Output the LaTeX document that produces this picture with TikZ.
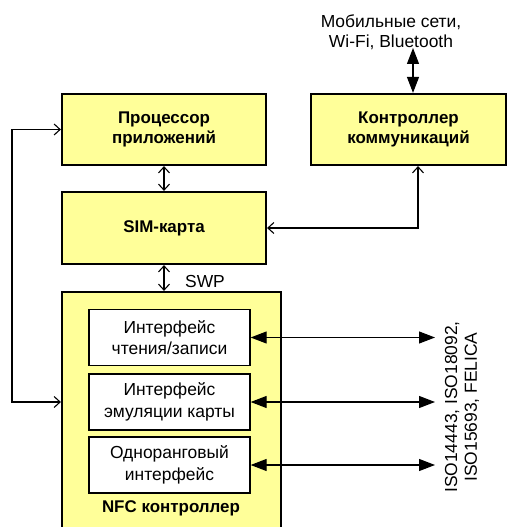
\documentclass[tikz,border=0pt]{standalone}
\usepackage{fontspec}
\setmainfont{Liberation Sans}
\usetikzlibrary{arrows.meta,positioning}
\definecolor{nfcyellow}{HTML}{FFFF99}

\begin{document}
\begin{tikzpicture}[
    x=1bp, y=-1bp, line join=miter,
    block/.style={draw=black, line width=2.2bp, fill=nfcyellow, inner sep=0pt,
      align=center, font=\fontsize{17}{20.5}\selectfont\bfseries},
    iface/.style={draw=black, line width=1.3bp, fill=white, inner sep=0pt,
      minimum width=161bp, minimum height=56bp, align=center,
      font=\fontsize{17.5}{21.5}\selectfont},
    lbl/.style={inner sep=0pt, align=center, font=\fontsize{17.5}{20}\selectfont},
    wire/.style={line width=1.1bp},
    barb/.style={wire, {Straight Barb[length=6bp,width=11bp]}-{Straight Barb[length=6bp,width=11bp]}},
    fat/.style={wire, {Triangle[length=16bp,width=12bp]}-{Triangle[length=16bp,width=12bp]}},
  ]
  \useasboundingbox (0,0) rectangle (507,527);
  \clip (0,0) rectangle (507,527);

  % --- upper blocks ---
  \node[block, minimum width=204bp, minimum height=71bp] (proc) at (164,129.5)
    {Процессор\\приложений};
  \node[block, minimum width=195bp, minimum height=71bp] (comm) at (408.5,129.5)
    {Контроллер\\коммуникаций};
  \node[block, minimum width=204bp, minimum height=72bp] (sim) at (164,228)
    {SIM-карта};

  % --- NFC controller with its interfaces ---
  \node[block, minimum width=219bp, minimum height=250bp] (nfc) at (171.5,417) {};
  \node[block, draw=none, fill=none] (nfclbl) at (171,508) {NFC контроллер};
  \node[iface] (rw)  at (169.5,337.5) {Интерфейс\\чтения/записи};
  \node[iface] (emu) at (169.5,402)   {Интерфейс\\эмуляции карты};
  \node[iface] (p2p) at (169.5,465)   {Одноранговый\\интерфейс};

  % --- outer labels ---
  \node[lbl] (net) at (391,32) {Мобильные сети,\\Wi-Fi, Bluetooth};
  \node[lbl, rotate=90] (iso) at (462,407) {ISO14443, ISO18092,\\ISO15693, FELICA};
  \node[lbl] (swp) at (205,281) {SWP};

  % --- connectors ---
  \coordinate (mob) at (413,48);
  \coordinate (bus) at (12,0);
  \coordinate (rf)  at (435,0);
  \draw[fat] (mob) -- (mob |- comm.north);
  \draw[barb] (proc.south) -- (sim.north);
  \draw[barb] (sim.south) -- (sim.south |- nfc.north);
  \draw[barb] ([xshift=9.5bp]comm.south) |- (sim.east);
  \draw[barb] (proc.west) -- (proc.west -| bus) -- (bus |- emu) -- (nfc.west |- emu);
  \foreach \i in {rw, emu, p2p}
    \draw[fat] (\i.east) -- (\i.east -| rf);
\end{tikzpicture}
\end{document}
